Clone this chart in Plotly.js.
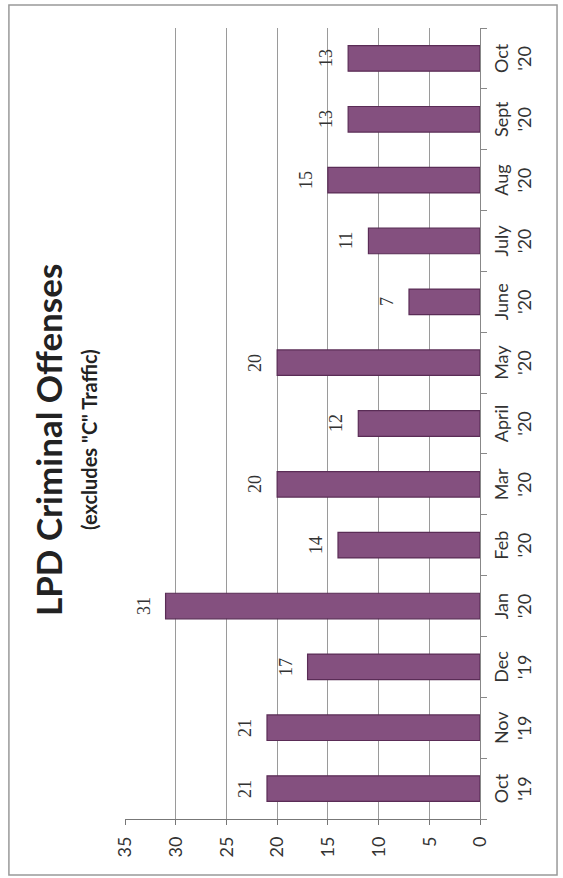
<!DOCTYPE html>
<html><head><meta charset="utf-8">
<script src="https://cdn.plot.ly/plotly-3.0.1.min.js"></script>
<style>
html,body{margin:0;padding:0;width:563px;height:878px;overflow:hidden;background:#fff;}
#chart{position:absolute;left:0;top:0;width:878px;height:563px;transform-origin:0 0;transform:translateY(878px) rotate(-90deg);}
</style></head><body><div id="chart"></div>
<script>
const categories = ["Oct<br>'19","Nov<br>'19","Dec<br>'19","Jan<br>'20","Feb<br>'20","Mar<br>'20","April<br>'20","May<br>'20","June<br>'20","July<br>'20","Aug<br>'20","Sept<br>'20","Oct<br>'20"];
const offenses = [21,21,17,31,14,20,12,20,7,11,15,13,13];
const valueTicks = [0,5,10,15,20,25,30,35];
const chartTitle = "LPD Criminal Offenses";
const chartSubtitle = "(excludes \"C\" Traffic)";

const trace = {
  type: 'bar',
  x: categories,
  y: offenses,
  marker: {color: '#84507f', line: {color: '#5a2c56', width: 1.2}},
  hoverinfo: 'none'
};

const labelAnnotations = categories.map((c, i) => ({
  x: c, y: offenses[i], xref: 'x', yref: 'y',
  text: String(offenses[i]), showarrow: false,
  yanchor: 'middle', yshift: 22,
  font: {family: 'Liberation Serif, serif', size: 18, color: '#333'}
}));

const layout = {
  width: 878, height: 563,
  margin: {l: 59, r: 28, t: 125, b: 83},
  paper_bgcolor: '#fff', plot_bgcolor: '#fff',
  showlegend: false,
  bargap: 0.58,
  title: {
    text: '<b>' + chartTitle + '</b>',
    xref: 'container', x: 0.499, xanchor: 'center',
    yref: 'container', y: 0.912, yanchor: 'middle',
    font: {family: 'Lato, sans-serif', size: 35, color: '#222'}
  },
  xaxis: {
    type: 'category',
    showgrid: false,
    showline: true, linecolor: '#888', linewidth: 1,
    ticks: 'outside', tickson: 'boundaries', ticklen: 6, tickcolor: '#888',
    ticklabelstandoff: 5,
    tickfont: {family: 'Lato, sans-serif', size: 18, color: '#333'},
    zeroline: false
  },
  yaxis: {
    range: [0, 35],
    tickvals: valueTicks,
    showgrid: true, gridcolor: '#9a9a9a', gridwidth: 1,
    showline: true, linecolor: '#777', linewidth: 1,
    ticks: 'outside', ticklen: 5, tickcolor: '#777',
    ticklabelstandoff: 8,
    tickfont: {family: 'Lato, sans-serif', size: 18, color: '#333'},
    zeroline: false
  },
  annotations: labelAnnotations.concat([{
    xref: 'paper', yref: 'paper', x: 0.48, y: 1.1,
    xanchor: 'center', yanchor: 'middle', showarrow: false,
    text: '<b>' + chartSubtitle + '</b>',
    font: {family: 'Lato, sans-serif', size: 20, color: '#222'}
  }]),
  shapes: [{
    type: 'rect', xref: 'paper', yref: 'paper',
    x0: -0.0708, x1: 1.029, y0: -0.217, y1: 1.327,
    line: {color: '#999', width: 1.5}
  }]
};

Plotly.newPlot('chart', [trace], layout, {staticPlot: true, displayModeBar: false});
</script>
</body></html>
